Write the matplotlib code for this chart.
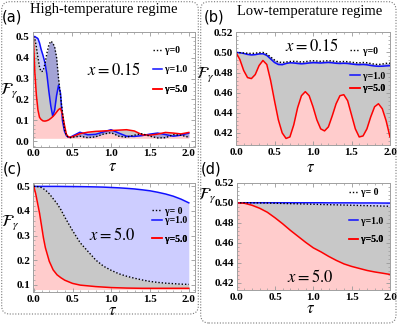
import numpy as np
import matplotlib
matplotlib.use('Agg')
import matplotlib.pyplot as plt
from matplotlib.ticker import AutoMinorLocator, FormatStrFormatter
from matplotlib.patches import FancyBboxPatch
from matplotlib.lines import Line2D

plt.rcParams['mathtext.fontset'] = 'stix'
plt.rcParams['font.family'] = 'Liberation Serif'

# ---- panel (a): high temperature, x = 0.15
t_a = [0, 0.02, 0.04, 0.06, 0.08, 0.1, 0.125, 0.15, 0.175, 0.2, 0.225, 0.25, 0.275,
       0.3, 0.325, 0.35, 0.375, 0.4, 0.425, 0.45, 0.475, 0.5, 0.6, 0.7, 0.8, 0.9,
       1.0, 1.1, 1.2, 1.3, 1.4, 1.5, 1.6, 1.7, 1.8, 1.9, 2.0]
g0_a = [0.50, 0.49, 0.45, 0.40, 0.355, 0.333, 0.335, 0.37, 0.42, 0.46, 0.478, 0.47, 0.45,
        0.40, 0.30, 0.22, 0.14, 0.06, 0.03, 0.02, 0.018, 0.02, 0.025, 0.018, 0.022, 0.035,
        0.042, 0.025, 0.02, 0.03, 0.037, 0.025, 0.017, 0.018, 0.032, 0.03, 0.02]
g1_a = [0.50, 0.50, 0.495, 0.49, 0.47, 0.44, 0.41, 0.375, 0.32, 0.24, 0.17, 0.12, 0.15,
        0.22, 0.268, 0.23, 0.10, 0.05, 0.028, 0.02, 0.02, 0.025, 0.044, 0.032, 0.034, 0.045,
        0.056, 0.04, 0.025, 0.024, 0.028, 0.035, 0.04, 0.033, 0.025, 0.03, 0.04]
g5_a = [0.50, 0.33, 0.22, 0.15, 0.115, 0.105, 0.098, 0.097, 0.099, 0.103, 0.11, 0.118, 0.128,
        0.14, 0.152, 0.158, 0.13, 0.08, 0.035, 0.022, 0.02, 0.022, 0.037, 0.044, 0.048, 0.05,
        0.052, 0.054, 0.056, 0.05, 0.032, 0.03, 0.035, 0.043, 0.04, 0.036, 0.043]

# ---- panel (b): low temperature, x = 0.15
t_b = [i * 0.05 for i in range(41)]
g0_b = [0.5000, 0.4998, 0.4995, 0.4992, 0.4990, 0.4993, 0.4998, 0.5000, 0.4985, 0.4955,
        0.4925, 0.4905, 0.4900, 0.4905, 0.4910, 0.4912, 0.4910, 0.4905, 0.4908, 0.4915,
        0.4918, 0.4915, 0.4912, 0.4915, 0.4918, 0.4915, 0.4910, 0.4908, 0.4910, 0.4908,
        0.4903, 0.4898, 0.4897, 0.4900, 0.4898, 0.4890, 0.4883, 0.4880, 0.4885, 0.4892, 0.4893]
g1_b = [0.5000, 0.4997, 0.4990, 0.4980, 0.4975, 0.4978, 0.4985, 0.4987, 0.4970, 0.4935,
        0.4900, 0.4880, 0.4878, 0.4890, 0.4897, 0.4895, 0.4890, 0.4887, 0.4890, 0.4895,
        0.4898, 0.4897, 0.4895, 0.4898, 0.4900, 0.4897, 0.4892, 0.4890, 0.4892, 0.4890,
        0.4885, 0.4880, 0.4878, 0.4880, 0.4877, 0.4870, 0.4865, 0.4862, 0.4863, 0.4866, 0.4868]
g5_b = [0.500, 0.493, 0.482, 0.475, 0.474, 0.478, 0.487, 0.492, 0.488, 0.472,
        0.452, 0.433, 0.420, 0.4145, 0.416, 0.428, 0.445, 0.457, 0.461, 0.457,
        0.446, 0.433, 0.424, 0.422, 0.426, 0.437, 0.449, 0.457, 0.458, 0.452,
        0.438, 0.424, 0.416, 0.417, 0.424, 0.436, 0.446, 0.449, 0.444, 0.432, 0.416]

# ---- panel (c): high temperature, x = 5.0
t_c = [0, 0.025, 0.05, 0.075, 0.1, 0.125, 0.15, 0.2, 0.25, 0.3, 0.35, 0.4, 0.5, 0.6,
       0.7, 0.8, 0.9, 1.0, 1.1, 1.2, 1.3, 1.4, 1.5, 1.6, 1.7, 1.8, 1.9, 2.0]
g0_c = [0.5, 0.4995, 0.499, 0.497, 0.495, 0.49, 0.485, 0.47, 0.45, 0.43, 0.405, 0.375, 0.32,
        0.27, 0.235, 0.20, 0.175, 0.158, 0.144, 0.134, 0.126, 0.119, 0.113, 0.109, 0.106,
        0.104, 0.102, 0.101]
g1_c = [0.5, 0.5, 0.5, 0.5, 0.5, 0.5, 0.5, 0.5, 0.5, 0.5, 0.4998, 0.4996, 0.4993, 0.499,
        0.4985, 0.4978, 0.497, 0.4955, 0.494, 0.492, 0.4895, 0.486, 0.482, 0.476, 0.469,
        0.46, 0.448, 0.433]
g5_c = [0.5, 0.47, 0.43, 0.39, 0.34, 0.29, 0.25, 0.195, 0.16, 0.14, 0.128, 0.118, 0.105,
        0.098, 0.095, 0.092, 0.09, 0.088, 0.087, 0.086, 0.0855, 0.085, 0.085, 0.085, 0.085,
        0.085, 0.085, 0.085]

# ---- panel (d): low temperature, x = 5.0
t_d = [i * 0.1 for i in range(21)]
g0_d = [0.5, 0.5, 0.4999, 0.4998, 0.4997, 0.4995, 0.4993, 0.4991, 0.4989, 0.4987, 0.4985,
        0.4983, 0.4981, 0.4979, 0.4977, 0.4975, 0.4973, 0.4971, 0.4969, 0.4967, 0.4965]
g1_d = [0.5, 0.5, 0.5, 0.5, 0.5, 0.5, 0.5, 0.5, 0.5, 0.5, 0.5,
        0.5, 0.4999, 0.4999, 0.4999, 0.4999, 0.4998, 0.4998, 0.4998, 0.4997, 0.4997]
g5_d = [0.5, 0.4995, 0.4975, 0.4945, 0.4905, 0.485, 0.479, 0.4725, 0.4665, 0.4605, 0.455,
        0.451, 0.4465, 0.4425, 0.439, 0.4365, 0.4345, 0.4325, 0.431, 0.4298, 0.4285]

labels = ['γ=0', 'γ=1.0', 'γ=5.0']
labels_c = ['γ= 0', 'γ=1.0', 'γ=5.0']

W, H = 399, 327
fig = plt.figure(figsize=(W / 100, H / 100), dpi=100)


def px_axes(l, r, t, b):
    return fig.add_axes([l / W, 1 - b / H, (r - l) / W, (b - t) / H])


ax_a = px_axes(32.5, 195, 31.5, 146.5)
ax_b = px_axes(236, 390, 32.3, 145)
ax_c = px_axes(33, 195, 182.7, 292)
ax_d = px_axes(236.7, 390, 182.7, 290)

gray_fill = '#c8c8c8'
pink_fill = '#ffcccc'
blue_c = '#1010ff'
dots = (0, (1, 1.4))


def draw(ax, t, g0, g1, g5, base):
    t = np.array(t)
    g0, g1, g5 = np.array(g0), np.array(g1), np.array(g5)
    ax.fill_between(t, base, g5, color=pink_fill, lw=0)
    ax.fill_between(t, g5, g0, color=gray_fill, lw=0)
    ax.fill_between(t, g0, g1, color='#3030ff', alpha=0.24, lw=0)
    ax.plot(t, g1, color=blue_c, lw=1.1)
    ax.plot(t, g5, color='red', lw=1.1)
    ax.plot(t, g0, color='black', lw=1.0, ls=dots)


def style(ax, xlim, ylim, yticks, yfmt):
    ax.set_xlim(*xlim)
    ax.set_ylim(*ylim)
    ax.set_xticks([0, 0.5, 1.0, 1.5, 2.0])
    ax.xaxis.set_major_formatter(FormatStrFormatter('%.1f'))
    ax.set_yticks(yticks)
    ax.yaxis.set_major_formatter(FormatStrFormatter(yfmt))
    ax.xaxis.set_minor_locator(AutoMinorLocator(5))
    ax.yaxis.set_minor_locator(AutoMinorLocator(5))
    ax.tick_params(which='both', direction='in', top=True, right=True, color='#999999',
                   labelsize=8, pad=2)
    ax.tick_params(which='major', length=3, width=0.6)
    ax.tick_params(which='minor', length=1.6, width=0.5)
    for lab in ax.get_xticklabels() + ax.get_yticklabels():
        lab.set_fontweight('bold')
    for s in ax.spines.values():
        s.set_color('#a0a0a0')
        s.set_linewidth(0.7)


def legend(ax, xh, ys, labs):
    handles = [Line2D([], [], color='black', lw=1.0, ls=dots),
               Line2D([], [], color=blue_c, lw=1.1),
               Line2D([], [], color='red', lw=1.1)]
    for h, y, lab in zip(handles, ys, labs):
        lg = ax.legend([h], [lab], loc='center left', bbox_to_anchor=(xh, y),
                       frameon=False, borderpad=0, borderaxespad=0, handlelength=1.0,
                       handletextpad=0.3, prop={'family': 'Liberation Serif',
                                               'weight': 'bold', 'size': 7})
        ax.add_artist(lg)


draw(ax_a, t_a, g0_a, g1_a, g5_a, 0.015)
draw(ax_b, t_b, g0_b, g1_b, g5_b, 0.408)
draw(ax_c, t_c, g0_c, g1_c, g5_c, 0.08)
draw(ax_d, t_d, g0_d, g1_d, g5_d, 0.413)

style(ax_a, (-0.01, 2.08), (-0.024, 0.524), [0, 0.1, 0.2, 0.3, 0.4, 0.5], '%.1f')
style(ax_b, (0, 2.0), (0.408, 0.52), [0.42, 0.44, 0.46, 0.48, 0.50, 0.52], '%.2f')
style(ax_c, (-0.01, 2.08), (0.07, 0.515), [0.1, 0.2, 0.3, 0.4, 0.5], '%.1f')
style(ax_d, (0, 2.0), (0.413, 0.52), [0.42, 0.44, 0.46, 0.48, 0.50, 0.52], '%.2f')

legend(ax_a, 0.74, [0.835, 0.67, 0.496], labels)
legend(ax_b, 0.74, [0.834, 0.612, 0.497], labels)
legend(ax_c, 0.735, [0.74, 0.65, 0.482], labels_c)
legend(ax_d, 0.73, [0.907, 0.643, 0.466], labels_c)

ax_a.text(0.5, 0.661, r'$x=0.15$', transform=ax_a.transAxes, ha='center', va='center', fontsize=12)
ax_b.text(0.494, 0.87, r'$x=0.15$', transform=ax_b.transAxes, ha='center', va='center', fontsize=12)
ax_c.text(0.488, 0.52, r'$x=5.0$', transform=ax_c.transAxes, ha='center', va='center', fontsize=12)
ax_d.text(0.48, 0.112, r'$x=5.0$', transform=ax_d.transAxes, ha='center', va='center', fontsize=12)

for ax, (fx, fy), (tx, ty) in [(ax_a, (-0.145, 0.487), (0.49, -0.175)),
                               (ax_b, (-0.2, 0.62), (0.487, -0.2)),
                               (ax_c, (-0.14, 0.63), (0.49, -0.17)),
                               (ax_d, (-0.19, 0.876), (0.48, -0.18))]:
    ax.text(fx, fy, r'$\mathcal{F}_\gamma$', transform=ax.transAxes, ha='center', va='center', fontsize=12)
    ax.text(tx, ty, r'$\tau$', transform=ax.transAxes, ha='center', va='center', fontsize=12)

for lab, x, y in [('(a)', 12, 17), ('(b)', 214, 17), ('(c)', 12, 169), ('(d)', 211, 169)]:
    fig.text(x / W, 1 - y / H, lab, ha='center', va='center', fontsize=10.5, family='DejaVu Sans')

fig.text(104 / W, 1 - 10 / H, 'High-temperature regime', ha='center', va='center', fontsize=10.5)
fig.text(310 / W, 1 - 11 / H, 'Low-temperature regime', ha='center', va='center', fontsize=10.5)

# dotted rounded frames around the two columns
for l, r, t, b in [(1.7, 198.3, 1.7, 314), (200.7, 396, 1.7, 323)]:
    box = FancyBboxPatch((l / 100, (H - b) / 100), (r - l) / 100, (b - t) / 100,
                         boxstyle='round,pad=0,rounding_size=0.08', transform=fig.dpi_scale_trans,
                         fill=False, ec='#777777', lw=0.8, ls=(0, (1, 1.5)))
    fig.add_artist(box)

fig.savefig('out.png', dpi=100)
